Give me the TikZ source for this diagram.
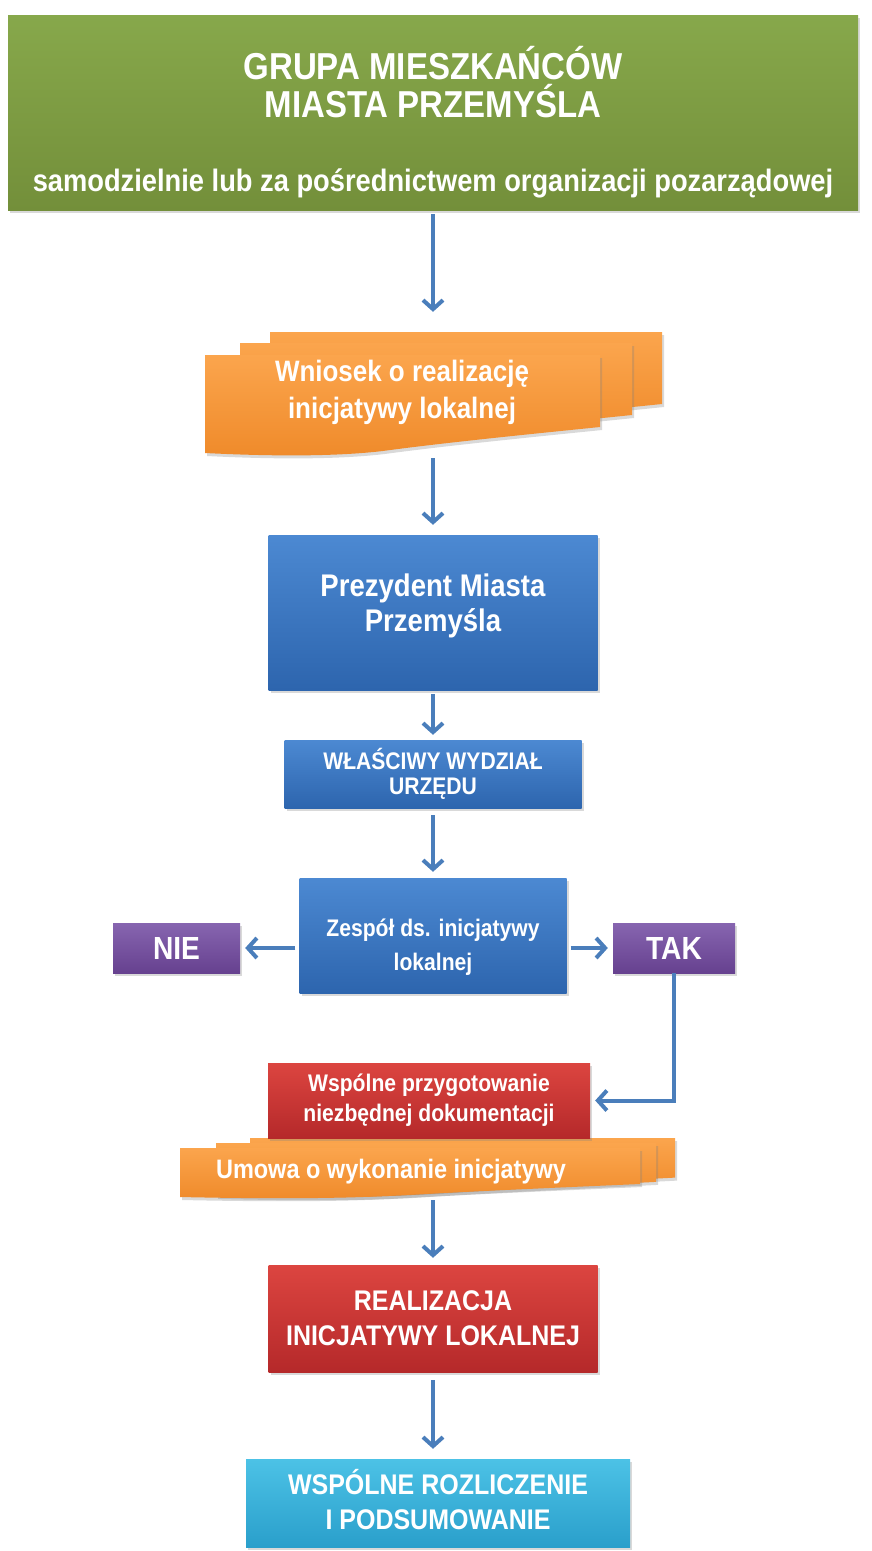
\documentclass[tikz,border=0pt]{standalone}
\usepackage{fontspec}
\setmainfont{Liberation Sans}[FakeStretch=0.88]
\usetikzlibrary{arrows.meta,shadows,positioning}

\definecolor{grupatop}{HTML}{87A84B}
\definecolor{grupabot}{HTML}{738F3A}
\definecolor{doctop}{HTML}{FBA54D}
\definecolor{docbot}{HTML}{EF8A2A}
\definecolor{bluetop}{HTML}{4C89D2}
\definecolor{bluebot}{HTML}{2D65AE}
\definecolor{purpletop}{HTML}{8765B0}
\definecolor{purplebot}{HTML}{66418F}
\definecolor{redtop}{HTML}{DC4540}
\definecolor{redbot}{HTML}{B5292A}
\definecolor{cyantop}{HTML}{4CC2E6}
\definecolor{cyanbot}{HTML}{2A9FCB}
\definecolor{connblue}{HTML}{4A7EBB}

% one sheet of a stacked document: left, top, width, height
\newcommand{\docsheet}[4]{%
  \path[docsheet] (#1,#2) -- ({#1+#3},#2) -- ({#1+#3},{#2+.72*#4})
    .. controls ({#1+.8*#3},{#2+.8*#4}) and ({#1+.6*#3},{#2+.88*#4}) .. ({#1+.45*#3},{#2+.96*#4})
    .. controls ({#1+.3*#3},{#2+1.03*#4}) and ({#1+.1*#3},{#2+#4}) .. (#1,{#2+.98*#4}) -- cycle;}
\newcommand{\fsz}[2]{\bfseries\fontsize{#1}{#2}\selectfont}

\begin{document}
\begin{tikzpicture}[x=1pt,y=-1pt,
    box/.style={rectangle,inner sep=0pt,text=white,align=center,
      drop shadow={shadow xshift=2pt,shadow yshift=-3pt,opacity=.3}},
    greenbox/.style={box,top color=grupatop,bottom color=grupabot},
    bluebox/.style={box,top color=bluetop,bottom color=bluebot},
    purplebox/.style={box,top color=purpletop,bottom color=purplebot},
    redbox/.style={box,top color=redtop,bottom color=redbot},
    cyanbox/.style={box,top color=cyantop,bottom color=cyanbot},
    docarea/.style={rectangle,inner sep=0pt},
    docsheet/.style={top color=doctop,bottom color=docbot,
      drop shadow={shadow xshift=2pt,shadow yshift=-3pt,opacity=.3}},
    doctext/.style={text=white,align=center,inner sep=0pt},
    conn/.style={-{Straight Barb[length=9pt,width=20pt,line width=4pt]},line width=4pt,
      draw=connblue,shorten <=4pt,shorten >=8pt}]

  \useasboundingbox (0,0) rectangle (872,1551);

  \node[greenbox,minimum width=850,minimum height=195,font=\fsz{37.5}{38}] (grupa) at (433,112.5)
    {\rule{0pt}{52pt}GRUPA MIESZKAŃCÓW\\MIASTA PRZEMYŚLA\\[36pt]
     \fsz{31}{32}samodzielnie lub za pośrednictwem organizacji pozarządowej};

  % stacked document with the request
  \node[docarea,minimum width=457,minimum height=124] (wniosek) at (433,394) {};
  \docsheet{270}{332}{392}{100}
  \docsheet{240}{343}{392}{100}
  \docsheet{205}{355}{395}{100}
  \node[doctext,font=\fsz{29.5}{37}] (wniosektxt) at (402,392)
    {Wniosek o realizację\\inicjatywy lokalnej};

  \node[bluebox,minimum width=329,minimum height=155,font=\fsz{31.3}{35}] (prezydent) at (433,612.5)
    {Prezydent Miasta\\Przemyśla\rule[-20.5pt]{0pt}{1pt}};
  \node[bluebox,minimum width=297,minimum height=68,font=\fsz{24}{25}] (wydzial) at (433,774)
    {WŁAŚCIWY WYDZIAŁ\\URZĘDU};
  \node[bluebox,minimum width=267,minimum height=115,font=\fsz{24}{34}] (zespol) at (433,935.5)
    {\rule{0pt}{41.5pt}Zespół ds. inicjatywy\\lokalnej};
  \node[purplebox,minimum width=127,minimum height=50,font=\fsz{32}{32}] (nie) at (176.5,948) {NIE};
  \node[purplebox,minimum width=122,minimum height=50,font=\fsz{32}{32}] (tak) at (674,948) {TAK};

  % agreement sheets lie under the red box
  \node[docarea,minimum width=495,minimum height=59] (umowa) at (425.5,1167.5) {};
  \docsheet{250}{1138}{425}{55}
  \docsheet{216}{1143}{440}{54}
  \docsheet{180}{1148}{460}{50}
  \node[doctext,font=\fsz{26.7}{28}] (umowatxt) at (391,1172) {Umowa o wykonanie inicjatywy};

  \node[redbox,minimum width=322,minimum height=75,font=\fsz{24}{30}] (wspolne) at (429,1100.5)
    {Wspólne przygotowanie\\niezbędnej dokumentacji};
  \node[redbox,minimum width=329,minimum height=107,font=\fsz{28.4}{35}] (realizacja) at (433,1318.5)
    {REALIZACJA\\INICJATYWY LOKALNEJ};
  \node[cyanbox,minimum width=384,minimum height=88,font=\fsz{28.4}{35}] (rozliczenie) at (438,1503)
    {WSPÓLNE ROZLICZENIE\\I PODSUMOWANIE\rule[-7pt]{0pt}{1pt}};

  \draw[conn,shorten >=20pt] (grupa) -- (wniosek);
  \draw[conn,shorten <=2pt,shorten >=10pt] (wniosek) -- (prezydent);
  \draw[conn,shorten >=5pt] (prezydent) -- (wydzial);
  \draw[conn,shorten <=7pt,shorten >=6pt] (wydzial) -- (zespol);
  \draw[conn,shorten >=5pt] (zespol.west |- nie) -- (nie);
  \draw[conn,shorten >=5pt] (zespol.east |- tak) -- (tak);
  \draw[conn,shorten <=0pt,shorten >=5pt] (tak.south) |- (wspolne.east);
  \draw[conn,shorten <=3pt,shorten >=7pt] (realizacja.north |- umowa.south) -- (realizacja);
  \draw[conn,shorten <=8pt,shorten >=10pt] (realizacja.south) -- (realizacja.south |- rozliczenie.north);
\end{tikzpicture}
\end{document}
